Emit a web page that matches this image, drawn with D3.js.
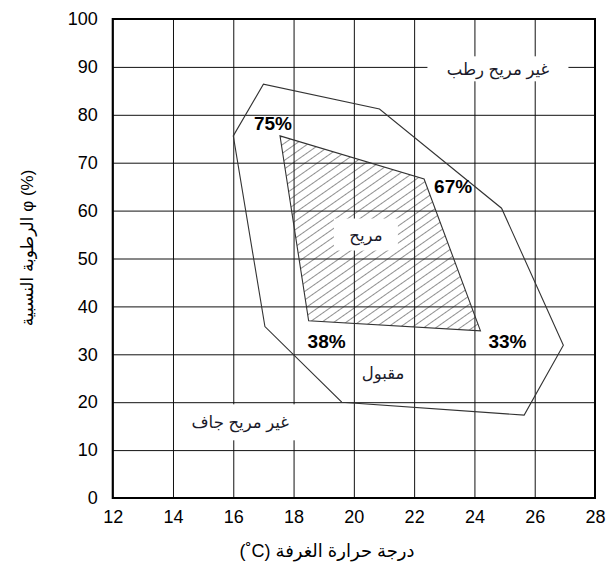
<!DOCTYPE html>
<html>
<head>
<meta charset="utf-8">
<script src="https://cdn.jsdelivr.net/npm/d3@7"></script>
<style>
  body { margin: 0; background: #fff; }
  text { font-family: "Liberation Sans", Arial, "DejaVu Sans", sans-serif; }
</style>
</head>
<body>
<div id="chart"></div>
<script>
// data
var xTicks = [12, 14, 16, 18, 20, 22, 24, 26, 28];
var yTicks = [0, 10, 20, 30, 40, 50, 60, 70, 80, 90, 100];

// acceptable zone (temp, humidity)
var acceptTemp = [16.0, 17.0, 20.85, 24.9, 26.95, 25.65, 19.6, 17.05];
var acceptHum  = [75.6, 86.4, 81.2, 60.5, 31.9, 17.3, 20.0, 35.8];

// comfortable zone
var comfortTemp = [17.55, 22.33, 24.2, 18.5];
var comfortHum  = [75.6, 66.6, 34.9, 37.0];
var cornerLabels = ["75%", "67%", "33%", "38%"];

var zoneNames = ["غير مريح رطب", "مريح", "مقبول", "غير مريح جاف"];
var zoneTemp = [24.78, 20.4, 20.97, 16.23];
var zoneHum  = [89.6, 55.0, 26.1, 15.8];

// LRM keeps the degree sign in front of C inside the RTL title
var xTitle = "درجة حرارة الغرفة (\u200E˚C)";
var yTitle = "الرطوبة النسبية φ (%)";

var W = 607, H = 567;
var mLeft = 112.7, mRight = 595, mTop = 19, mBottom = 498;

var svg = d3.select("#chart").append("svg")
    .attr("width", W).attr("height", H);

var x = d3.scaleLinear().domain([12, 28]).range([mLeft, mRight]);
var y = d3.scaleLinear().domain([0, 100]).range([mBottom, mTop]);

// hatch pattern
var defs = svg.append("defs");
defs.append("pattern")
    .attr("id", "hatch")
    .attr("patternUnits", "userSpaceOnUse")
    .attr("width", 7).attr("height", 7)
    .attr("patternTransform", "rotate(55)")
  .append("line")
    .attr("x1", 0).attr("y1", 0).attr("x2", 0).attr("y2", 7)
    .attr("stroke", "#222").attr("stroke-width", 1);

// axes with grid
var xAxis = svg.append("g")
    .attr("transform", "translate(0," + mBottom + ")")
    .call(d3.axisBottom(x).tickValues(xTicks).tickSizeInner(-(mBottom - mTop)).tickSizeOuter(0));
var yAxis = svg.append("g")
    .attr("transform", "translate(" + mLeft + ",0)")
    .call(d3.axisLeft(y).tickValues(yTicks).tickSizeInner(-(mRight - mLeft)).tickSizeOuter(0).tickPadding(15));

[xAxis, yAxis].forEach(function(a) {
  a.select(".domain").remove();
  a.selectAll(".tick line").attr("stroke", "#111").attr("stroke-width", 1);
  a.selectAll(".tick text")
      .attr("font-family", "'Liberation Sans', Arial, sans-serif")
      .attr("font-size", 18).attr("fill", "#000");
});
xAxis.selectAll(".tick text").attr("dy", 0).attr("y", 25);

// zones
var line = d3.line().x(function(d) { return x(d[0]); }).y(function(d) { return y(d[1]); }).curve(d3.curveLinearClosed);
var accept = d3.zip(acceptTemp, acceptHum);
var comfort = d3.zip(comfortTemp, comfortHum);

svg.append("path").attr("d", line(accept))
    .attr("fill", "none").attr("stroke", "#333").attr("stroke-width", 1.1);
svg.append("path").attr("d", line(comfort))
    .attr("fill", "url(#hatch)").attr("stroke", "#333").attr("stroke-width", 1.1);

// frame
svg.append("rect")
    .attr("x", mLeft).attr("y", mTop)
    .attr("width", mRight - mLeft).attr("height", mBottom - mTop)
    .attr("fill", "none").attr("stroke", "#000").attr("stroke-width", 2);

// zone names with white backing
var boxW = [141, 64, 0, 116];
var boxH = [25, 32, 0, 36];
zoneNames.forEach(function(name, i) {
  var cx = x(zoneTemp[i]), cy = y(zoneHum[i]);
  if (boxW[i] > 0) {
    svg.append("rect")
      .attr("x", cx - boxW[i] / 2).attr("y", cy - boxH[i] / 2)
      .attr("width", boxW[i]).attr("height", boxH[i])
      .attr("fill", "#fff");
  }
  svg.append("text")
    .attr("x", cx).attr("y", cy)
    .attr("text-anchor", "middle").attr("dominant-baseline", "central")
    .attr("font-family", "'DejaVu Sans', sans-serif")
    .attr("font-size", 16.5).attr("fill", "#1a1a2a")
    .text(name);
});

// corner percentages
var cornerDx = [-7, 29, 27, 18];
var cornerDy = [-6, 14, 17, 27];
cornerLabels.forEach(function(t, i) {
  svg.append("text")
    .attr("x", x(comfortTemp[i]) + cornerDx[i])
    .attr("y", y(comfortHum[i]) + cornerDy[i])
    .attr("text-anchor", "middle")
    .attr("font-size", 19).attr("font-weight", "bold").attr("fill", "#000")
    .text(t);
});

// titles
svg.append("text")
    .attr("x", 327).attr("y", 557)
    .attr("text-anchor", "middle")
    .attr("direction", "rtl")
    .attr("font-family", "'DejaVu Sans', sans-serif")
    .attr("font-size", 18).attr("fill", "#000")
    .text(xTitle);
svg.append("text")
    .attr("transform", "translate(33,248) rotate(-90)")
    .attr("text-anchor", "middle")
    .attr("font-family", "'DejaVu Sans', sans-serif")
    .attr("font-size", 17).attr("fill", "#000")
    .text(yTitle);
</script>
</body>
</html>
